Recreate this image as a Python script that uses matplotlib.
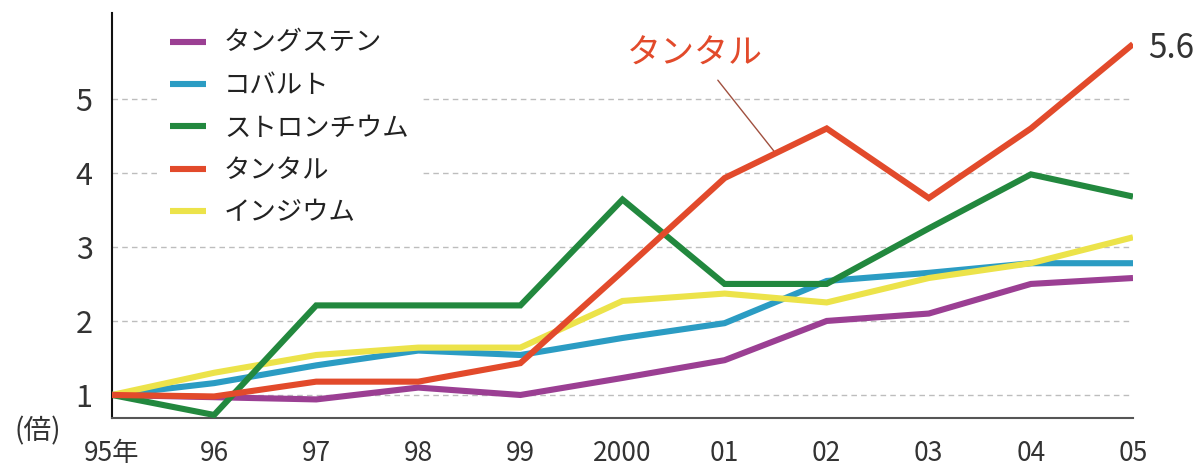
import matplotlib
matplotlib.use('Agg')
import matplotlib.pyplot as plt

plt.rcParams['font.family'] = ['Noto Sans CJK JP', 'DejaVu Sans']

# years (index positions on the x axis)
years = ['95年', '96', '97', '98', '99', '2000', '01', '02', '03', '04', '05']

# price ratio vs 1995 (倍)
tungsten  = [1.0, 0.97, 0.94, 1.10, 1.00, 1.23, 1.47, 2.00, 2.10, 2.50, 2.58]
cobalt    = [1.0, 1.16, 1.40, 1.60, 1.54, 1.77, 1.97, 2.54, 2.65, 2.78, 2.78]
strontium = [1.0, 0.73, 2.21, 2.21, 2.21, 3.64, 2.50, 2.50, 3.25, 3.98, 3.68]
tantalum  = [1.0, 0.98, 1.18, 1.18, 1.43, 2.67, 3.93, 4.60, 3.66, 4.60, 5.74]
indium    = [1.0, 1.30, 1.54, 1.64, 1.64, 2.27, 2.37, 2.25, 2.58, 2.78, 3.13]

names = ['タングステン', 'コバルト', 'ストロンチウム', 'タンタル', 'インジウム']
colors = ['#9b3f93', '#2b9cc3', '#22883e', '#e24a2b', '#ece34a']
series = [tungsten, cobalt, strontium, tantalum, indium]
zorders = [3, 4, 6, 7, 5]

fig = plt.figure(figsize=(12.02, 4.73), dpi=100)
ax = fig.add_axes([112/1202, 1-418/473, 1021/1202, 405/473])

x = list(range(len(years)))
for s, c, n, z in zip(series, colors, names, zorders):
    ax.plot(x, s, color=c, lw=4.4, label=n, zorder=z,
            solid_joinstyle='miter', solid_capstyle='butt')

ax.set_xlim(0, len(years)-1)
ax.set_ylim(0.689, 6.16)
ax.set_yticks([1, 2, 3, 4, 5])
ax.set_yticklabels(['1', '2', '3', '4', '5'])
ax.set_xticks(x)
ax.set_xticklabels(years)
ax.tick_params(axis='both', length=0, colors='#333333')
ax.tick_params(axis='x', pad=16, labelsize=19)
ax.tick_params(axis='y', pad=14, labelsize=22)

ax.yaxis.grid(True, color='#bdbdbd', linestyle=(0, (4, 3)), lw=1)
ax.set_axisbelow(True)
ax.spines['top'].set_visible(False)
ax.spines['right'].set_visible(False)
ax.spines['left'].set_color('#111111')
ax.spines['left'].set_linewidth(1.5)
ax.spines['bottom'].set_color('#555555')
ax.spines['bottom'].set_linewidth(1.5)

handles, labels = ax.get_legend_handles_labels()
leg = ax.legend(handles, labels, loc='upper left',
                bbox_to_anchor=(158/1202, 1-18/473), bbox_transform=fig.transFigure,
                frameon=True, fancybox=False, facecolor='white', edgecolor='none',
                framealpha=1, fontsize=19, handlelength=1.35, handletextpad=0.7,
                labelspacing=0.58, borderpad=0.45, borderaxespad=0)
leg.get_frame().set_linewidth(0)
for t in leg.get_texts():
    t.set_color('#222222')
for h in leg.get_lines():
    h.set_linewidth(4.4)
leg.set_zorder(2)

# tantalum call-out
ax.annotate('タンタル', xy=(6.5, (tantalum[6] + tantalum[7]) / 2),
            xytext=(5.71, 5.6), ha='center', va='center',
            fontsize=24.5, color='#e24a2b',
            arrowprops=dict(arrowstyle='-', color='#a0503f', lw=1,
                            relpos=(0.62, 0.0), shrinkA=5, shrinkB=0))

ax.annotate('5.6', xy=(x[-1], tantalum[-1]), xytext=(11, -3),
            textcoords='offset points', ha='left', va='center',
            fontsize=24, color='#333333', annotation_clip=False)

fig.text(38/1202, 1-431/473, '(倍)', ha='center', va='center',
         fontsize=20, color='#333333')

fig.savefig('out.png', dpi=100)
